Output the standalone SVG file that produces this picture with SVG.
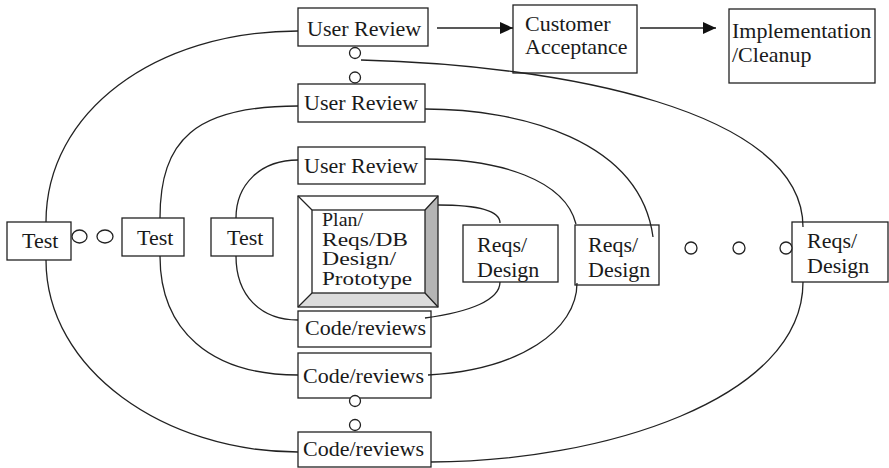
<svg xmlns="http://www.w3.org/2000/svg" width="889" height="468" viewBox="0 0 889 468">
<style>
.box{fill:#fff;stroke:#222;stroke-width:1.3}
.t{font-family:"Liberation Serif","Times New Roman",serif;font-size:22px;fill:#1a1a1a}
.p{font-size:19.5px}
.c{fill:none;stroke:#222;stroke-width:1.3}
.dot{fill:#fff;stroke:#222;stroke-width:1.3}
</style>
<defs>
<marker id="ah" viewBox="0 0 13 12" refX="13" refY="6" markerWidth="13" markerHeight="12" markerUnits="userSpaceOnUse" orient="auto">
<path d="M0,0 L13,6 L0,12 Z" fill="#111"/>
</marker>
</defs>
<rect width="889" height="468" fill="#fff"/>

<g id="plan">
<rect x="298" y="196" width="140" height="111" fill="#fff" stroke="none"/>
<polygon points="425,210 438,196 438,307 425,293" fill="#b4b4b4"/>
<polygon points="312,293 425,293 438,307 298,307" fill="#dcdcdc"/>
<rect x="298" y="196" width="140" height="111" fill="none" stroke="#222" stroke-width="1.3"/>
<rect x="312" y="210" width="113" height="83" fill="none" stroke="#222" stroke-width="1.3"/>
<path d="M298,196 L312,210 M438,196 L425,210 M298,307 L312,293 M438,307 L425,293" stroke="#222" stroke-width="1.3"/>
<text class="t p" x="322" y="226" textLength="41" lengthAdjust="spacingAndGlyphs">Plan/</text>
<text class="t p" x="322" y="245.5" textLength="86" lengthAdjust="spacingAndGlyphs">Reqs/DB</text>
<text class="t p" x="322" y="265" textLength="74" lengthAdjust="spacingAndGlyphs">Design/</text>
<text class="t p" x="322" y="284.5" textLength="90" lengthAdjust="spacingAndGlyphs">Prototype</text>
</g>

<g id="ur1"><rect class="box" x="298" y="8" width="130" height="38"/><text class="t" x="307" y="36">User Review</text></g>
<g id="ur2"><rect class="box" x="298" y="84" width="127" height="38"/><text class="t" x="304" y="110">User Review</text></g>
<g id="ur3"><rect class="box" x="298" y="147" width="127" height="37"/><text class="t" x="304" y="173">User Review</text></g>

<g id="cust"><rect class="box" x="513" y="5" width="124" height="68"/><text class="t" x="525" y="31">Customer</text><text class="t" x="525" y="54">Acceptance</text></g>
<g id="impl"><rect class="box" x="729" y="9" width="146" height="74"/><text class="t" x="732" y="38">Implementation</text><text class="t" x="732" y="62">/Cleanup</text></g>

<g id="test1"><rect class="box" x="7" y="222" width="64" height="38"/><text class="t" x="22" y="248">Test</text></g>
<g id="test2"><rect class="box" x="122" y="218" width="62" height="38"/><text class="t" x="137" y="245">Test</text></g>
<g id="test3"><rect class="box" x="211" y="218" width="62" height="38"/><text class="t" x="227" y="245">Test</text></g>

<g id="rd1"><rect class="box" x="463" y="225" width="95" height="57"/><text class="t" x="477" y="252">Reqs/</text><text class="t" x="477" y="277">Design</text></g>
<g id="rd2"><rect class="box" x="575" y="225" width="84" height="60"/><text class="t" x="588" y="252">Reqs/</text><text class="t" x="588" y="277">Design</text></g>
<g id="rd3"><rect class="box" x="792" y="222" width="96" height="60"/><text class="t" x="807" y="248">Reqs/</text><text class="t" x="807" y="273">Design</text></g>

<g id="cr1"><rect class="box" x="298" y="311" width="133" height="36"/><text class="t" x="305" y="335">Code/reviews</text></g>
<g id="cr2"><rect class="box" x="298" y="353" width="133" height="45"/><text class="t" x="303" y="383">Code/reviews</text></g>
<g id="cr3"><rect class="box" x="298" y="432" width="133" height="35"/><text class="t" x="303" y="456">Code/reviews</text></g>

<g id="connectors">
<line class="c" x1="437" y1="28" x2="513" y2="28" marker-end="url(#ah)"/>
<line class="c" x1="640" y1="28" x2="716" y2="28" marker-end="url(#ah)"/>
<path class="c" d="M298,31 C155,31 46,112 46,222"/>
<path class="c" d="M46,260 C46,370 165,452 298,452"/>
<path class="c" d="M431,462 C600,462 803,400 803,282"/>
<path class="c" d="M361,60 C560,65 803,110 803,227"/>
<path class="c" d="M298,106 C195,106 160,140 160,218"/>
<path class="c" d="M160,256 C160,330 210,375 298,375"/>
<path class="c" d="M428,375 C520,370 577,330 577,283"/>
<path class="c" d="M425,109 C520,109 640,140 653,237"/>
<path class="c" d="M425,159 C500,159 565,180 576,224"/>
<path class="c" d="M298,160 C260,160 236,185 236,218"/>
<path class="c" d="M236,256 C236,295 260,320 298,320"/>
<path class="c" d="M425,318 C470,312 500,300 500,282"/>
<path class="c" d="M438,205 C478,205 500,211 500,223"/>
</g>

<g id="dots">
<circle class="dot" cx="355" cy="53" r="5.5"/>
<circle class="dot" cx="355" cy="77.5" r="5.5"/>
<circle class="dot" cx="355" cy="401" r="5.5"/>
<circle class="dot" cx="355" cy="425" r="5.5"/>
<ellipse class="dot" cx="79.5" cy="236.5" rx="7.5" ry="6.5"/>
<ellipse class="dot" cx="105" cy="236.5" rx="8" ry="6.5"/>
<circle class="dot" cx="691" cy="248" r="6"/>
<circle class="dot" cx="739" cy="248" r="6"/>
<circle class="dot" cx="786" cy="248" r="6"/>
</g>
</svg>
